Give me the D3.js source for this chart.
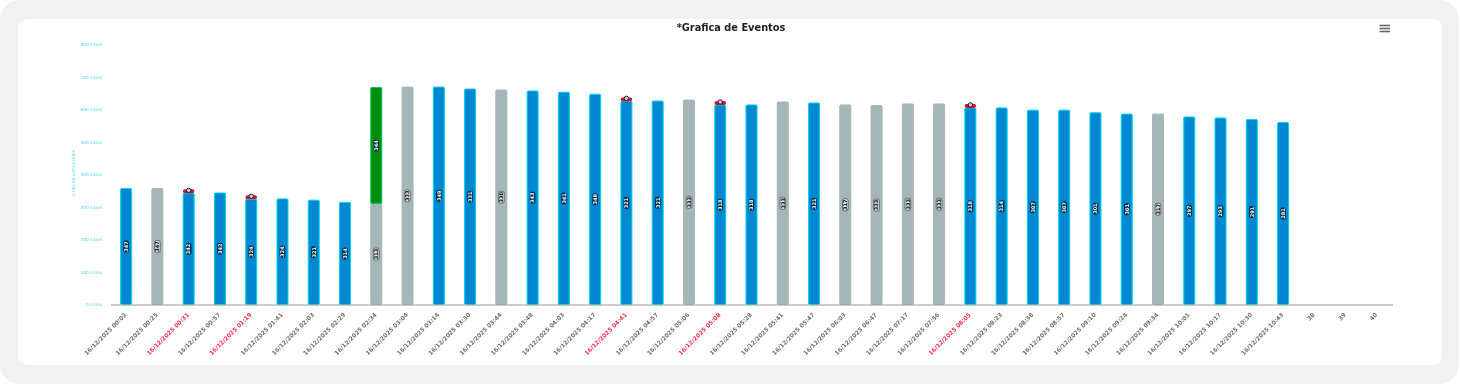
<!DOCTYPE html>
<html>
<head>
<meta charset="utf-8">
<script src="https://cdn.jsdelivr.net/npm/d3@7"></script>
<style>
    html, body { margin: 0; padding: 0; background: #fff; }
    #frame { position: absolute; left: 0; top: 0; width: 1459px; height: 384px; background: #f1f1f1; border-radius: 20px; }
    #card { position: absolute; left: 18px; top: 19px; width: 1424px; height: 346px; background: #fff; border-radius: 9px; }
    svg { position: absolute; left: 0; top: 0; filter: blur( 0.55px ); }
    text { font-family: "DejaVu Sans", sans-serif; }
    .domain { stroke: #999; }
</style>
</head>
<body>
<div id="frame"></div>
<div id="card"></div>
<div id="chart"></div>
<script>

// Categories, then the three empty slots the source chart leaves at the end
var categories = [
    '16/12/2025 00:02', '16/12/2025 00:25', '16/12/2025 00:31', '16/12/2025 00:57',
    '16/12/2025 01:19', '16/12/2025 01:41', '16/12/2025 02:03', '16/12/2025 02:29',
    '16/12/2025 02:34', '16/12/2025 03:04', '16/12/2025 03:14', '16/12/2025 03:30',
    '16/12/2025 03:44', '16/12/2025 03:48', '16/12/2025 04:03', '16/12/2025 04:17',
    '16/12/2025 04:41', '16/12/2025 04:57', '16/12/2025 05:06', '16/12/2025 05:08',
    '16/12/2025 05:28', '16/12/2025 05:41', '16/12/2025 05:47', '16/12/2025 06:03',
    '16/12/2025 06:47', '16/12/2025 07:17', '16/12/2025 07:56', '16/12/2025 08:05',
    '16/12/2025 08:23', '16/12/2025 08:38', '16/12/2025 08:57', '16/12/2025 09:10',
    '16/12/2025 09:24', '16/12/2025 09:34', '16/12/2025 10:01', '16/12/2025 10:17',
    '16/12/2025 10:30', '16/12/2025 10:43', '38', '39', '40'
];

var litros = [
    357, 357, 342, 343, 324, 325, 321, 314, 311, 669,
    669, 663, 660, 657, 653, 647, 625, 626, 629, 614,
    614, 623, 620, 614, 612, 617, 617, 605, 605, 598,
    598, 590, 586, 586, 577, 574, 569, 560
];

// Fuel added on top of the base column
var recarga = { '16/12/2025 02:34': 357 };

// Small numbers printed in the middle of each column
var etiquetas = [
    347, 347, 342, 342, 324, 324, 321, 314, 313, 333,
    349, 331, 330, 343, 341, 348, 321, 321, 333, 318,
    318, 333, 321, 317, 333, 333, 333, 318, 314, 307,
    307, 301, 301, 317, 297, 293, 291, 281
];
var etiqueta_recarga = 344;

var inactivos = [
    '16/12/2025 00:25', '16/12/2025 02:34', '16/12/2025 03:04', '16/12/2025 03:44',
    '16/12/2025 05:06', '16/12/2025 05:41', '16/12/2025 06:03', '16/12/2025 06:47',
    '16/12/2025 07:17', '16/12/2025 07:56', '16/12/2025 09:34'
];

var eventos = [
    '16/12/2025 00:31', '16/12/2025 01:19', '16/12/2025 04:41',
    '16/12/2025 05:08', '16/12/2025 08:05'
];

var y_ticks = [0, 100, 200, 300, 400, 500, 600, 700, 800];

var width = 1460;
var height = 385;
var margin = {top: 44.5, right: 67.5, bottom: 80.5, left: 110.5};

var svg = d3.select( '#chart' )
            .append( 'svg' )
            .attr( 'width', width )
            .attr( 'height', height );

var x = d3.scaleBand()
          .domain( categories )
          .range( [margin.left, width - margin.right] )
          .paddingInner( 0.616 )
          .paddingOuter( 0.308 );

var y = d3.scaleLinear()
          .domain( [0, 800] )
          .range( [height - margin.bottom, margin.top] );

var data = litros.map( function ( d, i ) {
    return { cat: categories[i], value: d, label: etiquetas[i] };
} );

function is_idle ( d ) { return inactivos.indexOf( d.cat ) >= 0; }

// Columns
svg.selectAll( '.bar' )
    .data( data )
    .enter().append( 'rect' )
    .attr( 'class', 'bar' )
    .attr( 'x', function ( d ) { return x( d.cat ) + 0.5; } )
    .attr( 'y', function ( d ) { return y( d.value ); } )
    .attr( 'width', x.bandwidth() - 1 )
    .attr( 'height', function ( d ) { return y( 0 ) - y( d.value ); } )
    .attr( 'rx', 1 )
    .attr( 'fill', function ( d ) { return is_idle( d ) ? '#a5b6b8' : '#0088d2'; } )
    .attr( 'stroke', function ( d ) { return is_idle( d ) ? '#a5b6b8' : '#00d4ec'; } );

// Refill segment
var refills = data.filter( function ( d ) { return recarga[d.cat]; } );

svg.selectAll( '.refill' )
    .data( refills )
    .enter().append( 'rect' )
    .attr( 'class', 'refill' )
    .attr( 'x', function ( d ) { return x( d.cat ) + 0.5; } )
    .attr( 'y', function ( d ) { return y( d.value + recarga[d.cat] ); } )
    .attr( 'width', x.bandwidth() - 1 )
    .attr( 'height', function ( d ) { return y( d.value ) - y( d.value + recarga[d.cat] ); } )
    .attr( 'rx', 1 )
    .attr( 'fill', '#008f0a' )
    .attr( 'stroke', '#00c46a' );

// Event caps
var caps = data.filter( function ( d ) { return eventos.indexOf( d.cat ) >= 0; } );

svg.selectAll( '.cap' )
    .data( caps )
    .enter().append( 'rect' )
    .attr( 'class', 'cap' )
    .attr( 'x', function ( d ) { return x( d.cat ) + 0.3; } )
    .attr( 'y', function ( d ) { return y( d.value ) - 4; } )
    .attr( 'width', x.bandwidth() - 0.6 )
    .attr( 'height', 4 )
    .attr( 'rx', 1.8 )
    .attr( 'fill', '#d8112a' );

svg.selectAll( '.cap-dot' )
    .data( caps )
    .enter().append( 'circle' )
    .attr( 'class', 'cap-dot' )
    .attr( 'cx', function ( d ) { return x( d.cat ) + x.bandwidth() / 2; } )
    .attr( 'cy', function ( d ) { return y( d.value ) - 3; } )
    .attr( 'r', 2.2 )
    .attr( 'fill', '#c8ccd8' )
    .attr( 'stroke', '#1c1c30' )
    .attr( 'stroke-width', 1 );

// Value pills, rotated
function add_pill ( cat, y_mid, text, dark ) {

    var g = svg.append( 'g' )
               .attr( 'transform', 'translate(' + ( x( cat ) + x.bandwidth() / 2 ) + ',' + y_mid + ') rotate(-90)' );

    g.append( 'rect' )
     .attr( 'x', -6 )
     .attr( 'y', -2.8 )
     .attr( 'width', 12 )
     .attr( 'height', 5.6 )
     .attr( 'rx', 2 )
     .attr( 'fill', dark ? '#07304a' : '#d8dddf' )
     .attr( 'stroke', dark ? 'none' : '#333' )
     .attr( 'stroke-width', 0.6 );

    g.append( 'text' )
     .attr( 'text-anchor', 'middle' )
     .attr( 'dy', '.36em' )
     .attr( 'font-size', 5 )
     .attr( 'font-weight', 'bold' )
     .attr( 'fill', dark ? '#e8fbff' : '#000' )
     .text( text );

}

data.forEach( function ( d ) {
    add_pill( d.cat, ( y( d.value ) + y( 0 ) ) / 2, d.label, !is_idle( d ) );
} );

refills.forEach( function ( d ) {
    add_pill( d.cat, ( y( d.value ) + y( d.value + recarga[d.cat] ) ) / 2, etiqueta_recarga, true );
} );

// Axes
var x_axis = svg.append( 'g' )
                .attr( 'class', 'x axis' )
                .attr( 'transform', 'translate(0,' + y( 0 ) + ')' )
                .call( d3.axisBottom( x ).tickSize( 0 ) );

x_axis.select( '.domain' ).attr( 'stroke', '#999' );

x_axis.selectAll( 'text' )
      .attr( 'font-size', 5.8 )
      .attr( 'font-weight', 'bold' )
      .attr( 'text-anchor', 'end' )
      .attr( 'dx', 0 )
      .attr( 'dy', 0 )
      .attr( 'x', -7 )
      .attr( 'y', 8.2 )
      .attr( 'transform', 'rotate(-45)' )
      .attr( 'fill', function ( d ) { return eventos.indexOf( d ) >= 0 ? '#f7304a' : '#6e6e6e'; } );

var y_axis = svg.append( 'g' )
                .attr( 'class', 'y axis' )
                .attr( 'transform', 'translate(' + margin.left + ',0)' )
                .call( d3.axisLeft( y )
                         .tickValues( y_ticks )
                         .tickSize( 0 )
                         .tickPadding( 8.5 )
                         .tickFormat( function ( d ) { return d + ' Litros'; } ) );

y_axis.select( '.domain' ).remove();

y_axis.selectAll( 'text' )
      .attr( 'font-size', 4.3 )
      .attr( 'fill', '#50d2ea' );

// Labels
svg.append( 'text' )
    .attr( 'text-anchor', 'middle' )
    .attr( 'transform', 'translate(74.5,173) rotate(-90)' )
    .attr( 'font-size', 4.3 )
    .attr( 'fill', '#50d2ea' )
    .text( 'Litros de combustible' );

svg.append( 'text' )
    .attr( 'x', 731 )
    .attr( 'y', 30.5 )
    .attr( 'text-anchor', 'middle' )
    .attr( 'font-size', 9.8 )
    .attr( 'font-weight', 'bold' )
    .attr( 'fill', '#222' )
    .text( '*Grafica de Eventos' );

// Export menu icon
[25, 28, 31].forEach( function ( yy ) {
    svg.append( 'line' )
       .attr( 'x1', 1379.5 )
       .attr( 'x2', 1390 )
       .attr( 'y1', yy + 0.5 )
       .attr( 'y2', yy + 0.5 )
       .attr( 'stroke', '#666' )
       .attr( 'stroke-width', 1.6 );
} );

</script>
</body>
</html>
